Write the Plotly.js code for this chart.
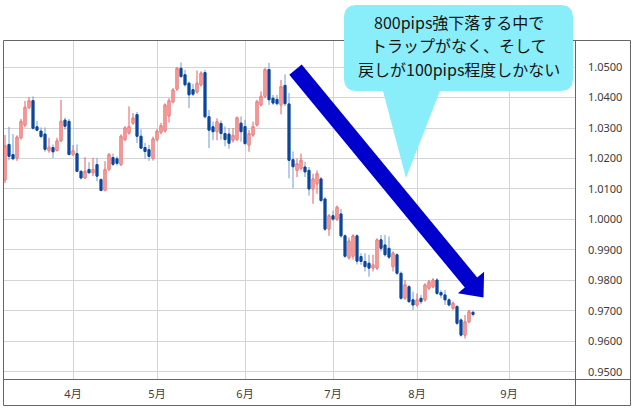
<!DOCTYPE html>
<html>
<head>
<meta charset="utf-8">
<script src="https://cdn.plot.ly/plotly-3.0.1.min.js"></script>
<style>
  html, body { margin: 0; padding: 0; background: #ffffff; }
  #chart { width: 635px; height: 411px; }
</style>
</head>
<body>
<div id="chart"></div>
<script>
// Daily EUR/CHF candles, 2022 (weekdays only)
const dates = [
  '2022-03-09','2022-03-10','2022-03-11','2022-03-14','2022-03-15','2022-03-16','2022-03-17','2022-03-18',
  '2022-03-21','2022-03-22','2022-03-23','2022-03-24','2022-03-25','2022-03-28','2022-03-29','2022-03-30','2022-03-31',
  '2022-04-01','2022-04-04','2022-04-05','2022-04-06','2022-04-07','2022-04-08','2022-04-11','2022-04-12','2022-04-13',
  '2022-04-14','2022-04-15','2022-04-18','2022-04-19','2022-04-20','2022-04-21','2022-04-22','2022-04-25','2022-04-26',
  '2022-04-27','2022-04-28','2022-04-29',
  '2022-05-02','2022-05-03','2022-05-04','2022-05-05','2022-05-06','2022-05-09','2022-05-10','2022-05-11','2022-05-12',
  '2022-05-13','2022-05-16','2022-05-17','2022-05-18','2022-05-19','2022-05-20','2022-05-23','2022-05-24','2022-05-25',
  '2022-05-26','2022-05-27','2022-05-30','2022-05-31',
  '2022-06-01','2022-06-02','2022-06-03','2022-06-06','2022-06-07','2022-06-08','2022-06-09','2022-06-10','2022-06-13',
  '2022-06-14','2022-06-15','2022-06-16','2022-06-17','2022-06-20','2022-06-21','2022-06-22','2022-06-23','2022-06-24',
  '2022-06-27','2022-06-28','2022-06-29','2022-06-30',
  '2022-07-01','2022-07-04','2022-07-05','2022-07-06','2022-07-07','2022-07-08','2022-07-11','2022-07-12','2022-07-13',
  '2022-07-14','2022-07-15','2022-07-18','2022-07-19','2022-07-20','2022-07-21','2022-07-22','2022-07-25','2022-07-26',
  '2022-07-27','2022-07-28','2022-07-29',
  '2022-08-01','2022-08-02','2022-08-03','2022-08-04','2022-08-05','2022-08-08','2022-08-09','2022-08-10','2022-08-11',
  '2022-08-12','2022-08-15','2022-08-16','2022-08-17','2022-08-18','2022-08-19'
];

const open = [
  1.0130,1.0246,1.0213,1.0202,1.0268,1.0310,1.0367,1.0390,1.0304,1.0290,1.0280,1.0226,1.0236,1.0226,1.0258,1.0326,1.0322,
  1.0213,1.0216,1.0158,1.0136,1.0164,1.0153,1.0180,1.0131,1.0095,1.0164,1.0203,1.0199,1.0180,1.0262,1.0284,1.0316,1.0344,
  1.0273,1.0236,1.0229,1.0200,
  1.0262,1.0286,1.0291,1.0340,1.0386,1.0428,1.0496,1.0475,1.0447,1.0426,1.0418,1.0442,1.0482,1.0337,1.0304,1.0288,1.0315,
  1.0282,1.0280,1.0260,1.0262,1.0316,
  1.0305,1.0244,1.0277,1.0310,1.0376,1.0404,1.0492,1.0398,1.0394,1.0376,1.0440,1.0379,1.0196,1.0161,1.0167,1.0172,1.0161,
  1.0100,1.0117,1.0133,1.0067,0.9968,
  1.0012,1.0001,1.0018,0.9946,0.9874,0.9879,0.9946,0.9878,0.9862,0.9856,0.9840,0.9840,0.9933,0.9916,0.9905,0.9845,0.9884,
  0.9823,0.9741,0.9779,0.9736,
  0.9719,0.9741,0.9736,0.9774,0.9779,0.9801,0.9760,0.9752,0.9736,0.9708,0.9714,0.9670,0.9620,0.9664,0.9695
];

const high = [
  1.0277,1.0304,1.0280,1.0276,1.0330,1.0389,1.0402,1.0404,1.0323,1.0302,1.0302,1.0268,1.0246,1.0268,1.0392,1.0334,1.0330,
  1.0244,1.0246,1.0160,1.0204,1.0188,1.0202,1.0202,1.0135,1.0191,1.0218,1.0216,1.0207,1.0279,1.0306,1.0371,1.0349,1.0353,
  1.0295,1.0251,1.0245,1.0272,
  1.0296,1.0317,1.0381,1.0398,1.0431,1.0500,1.0515,1.0491,1.0453,1.0445,1.0489,1.0486,1.0491,1.0359,1.0321,1.0332,1.0325,
  1.0305,1.0300,1.0300,1.0338,1.0338,
  1.0327,1.0294,1.0321,1.0393,1.0420,1.0498,1.0514,1.0409,1.0409,1.0458,1.0476,1.0415,1.0223,1.0200,1.0216,1.0189,1.0172,
  1.0150,1.0161,1.0139,1.0073,1.0018,
  1.0029,1.0045,1.0034,0.9951,0.9940,0.9951,0.9951,0.9889,0.9889,0.9884,0.9884,0.9938,0.9949,0.9949,0.9944,0.9895,0.9889,
  0.9829,0.9801,0.9785,0.9763,
  0.9757,0.9752,0.9790,0.9801,0.9807,0.9807,0.9768,0.9768,0.9741,0.9730,0.9719,0.9675,0.9686,0.9703,0.9700
];

const low = [
  1.0119,1.0194,1.0194,1.0192,1.0262,1.0302,1.0362,1.0295,1.0289,1.0266,1.0222,1.0219,1.0202,1.0223,1.0255,1.0295,1.0210,
  1.0208,1.0155,1.0131,1.0133,1.0151,1.0142,1.0125,1.0092,1.0092,1.0158,1.0175,1.0177,1.0175,1.0257,1.0278,1.0311,1.0251,
  1.0232,1.0199,1.0192,1.0193,
  1.0256,1.0279,1.0285,1.0318,1.0381,1.0422,1.0464,1.0436,1.0365,1.0405,1.0413,1.0436,1.0332,1.0234,1.0260,1.0260,1.0262,
  1.0240,1.0232,1.0252,1.0258,1.0255,
  1.0244,1.0222,1.0271,1.0305,1.0371,1.0398,1.0376,1.0376,1.0374,1.0345,1.0372,1.0135,1.0102,1.0139,1.0161,1.0139,1.0078,
  1.0051,1.0084,1.0056,0.9962,0.9946,
  0.9995,0.9995,0.9940,0.9874,0.9868,0.9868,0.9852,0.9851,0.9829,0.9812,0.9829,0.9834,0.9895,0.9878,0.9870,0.9829,0.9818,
  0.9736,0.9736,0.9725,0.9703,
  0.9714,0.9722,0.9730,0.9768,0.9774,0.9752,0.9741,0.9719,0.9714,0.9703,0.9653,0.9615,0.9609,0.9659,0.9681
];

const close = [
  1.0242,1.0207,1.0199,1.0270,1.0322,1.0368,1.0390,1.0299,1.0293,1.0272,1.0230,1.0237,1.0222,1.0258,1.0322,1.0306,1.0213,
  1.0225,1.0158,1.0136,1.0158,1.0153,1.0164,1.0142,1.0095,1.0164,1.0213,1.0181,1.0184,1.0273,1.0301,1.0305,1.0333,1.0273,
  1.0234,1.0223,1.0207,1.0264,
  1.0290,1.0308,1.0376,1.0390,1.0425,1.0496,1.0469,1.0442,1.0409,1.0411,1.0447,1.0480,1.0337,1.0293,1.0288,1.0321,1.0282,
  1.0262,1.0250,1.0276,1.0334,1.0288,
  1.0249,1.0282,1.0305,1.0387,1.0404,1.0492,1.0393,1.0382,1.0380,1.0436,1.0380,1.0194,1.0173,1.0183,1.0194,1.0156,1.0100,
  1.0133,1.0150,1.0062,0.9968,1.0012,
  1.0001,1.0040,0.9946,0.9879,0.9929,0.9946,0.9863,0.9862,0.9845,0.9840,0.9851,0.9933,0.9905,0.9884,0.9876,0.9889,0.9823,
  0.9741,0.9785,0.9730,0.9719,
  0.9736,0.9730,0.9785,0.9795,0.9801,0.9757,0.9752,0.9736,0.9719,0.9725,0.9659,0.9620,0.9664,0.9697,0.9688
];

// Month axis labels (placed on the first trading day of each month)
const monthTicks  = ['2022-04-01','2022-05-02','2022-06-01','2022-07-01','2022-08-01','2022-09-01'];
const monthLabels = ['4月','5月','6月','7月','8月','9月'];

// Callout text
const calloutLines = ['800pips強下落する中で', 'トラップがなく、そして', '戻しが100pips程度しかない'];

// ---- geometry helpers (pixel -> paper) ----
const W = 635, H = 411;
const M = { l: 3, r: 60, t: 40, b: 32 };
const PW = W - M.l - M.r, PH = H - M.t - M.b;
const px = x => (x - M.l) / PW;
const py = y => 1 - (y - M.t) / PH;
const pathFrom = pts => pts.map((p, i) => (i ? 'L' : 'M') + px(p[0]).toFixed(5) + ',' + py(p[1]).toFixed(5)).join(' ') + ' Z';

// body-only extents for the overlay trace
const bodyHigh = open.map((o, i) => Math.max(o, close[i]));
const bodyLow  = open.map((o, i) => Math.min(o, close[i]));

const UP_WICK = '#ea5b5d', DN_WICK = '#6e9bd3';
const UP_BODY = '#f5a7a7', UP_EDGE = '#ef8585', DN_BODY = '#0c479a';

const wicks = {
  type: 'candlestick', x: dates, open: open, high: high, low: low, close: close,
  increasing: { line: { color: UP_WICK, width: 1 }, fillcolor: UP_WICK },
  decreasing: { line: { color: DN_WICK, width: 1 }, fillcolor: DN_WICK },
  hoverinfo: 'skip', showlegend: false
};
const bodies = {
  type: 'candlestick', x: dates, open: open, high: bodyHigh, low: bodyLow, close: close,
  increasing: { line: { color: UP_EDGE, width: 1 }, fillcolor: UP_BODY },
  decreasing: { line: { color: DN_BODY, width: 1 }, fillcolor: DN_BODY },
  hoverinfo: 'skip', showlegend: false
};

// ---- frame, arrow and callout bubble ----
const FRAME = '#666666';
const frameLine = (x0, y0, x1, y1) => ({
  type: 'line', xref: 'paper', yref: 'paper', layer: 'above',
  x0: px(x0), y0: py(y0), x1: px(x1), y1: py(y1),
  line: { color: FRAME, width: 1 }
});

// big downward arrow
const arrowPts = [
  [301.7, 64.5], [477.2, 277.4], [484.1, 271.7], [483.5, 297.6],
  [457.9, 293.3], [464.8, 287.6], [289.3, 74.7]
];

// speech bubble: rounded box with a pointer
function bubblePath(x0, y0, x1, y1, r, tl, tr, tip) {
  const P = (x, y) => px(x).toFixed(5) + ',' + py(y).toFixed(5);
  return 'M' + P(x0 + r, y0) +
    ' L' + P(x1 - r, y0) + ' Q' + P(x1, y0) + ' ' + P(x1, y0 + r) +
    ' L' + P(x1, y1 - r) + ' Q' + P(x1, y1) + ' ' + P(x1 - r, y1) +
    ' L' + P(tr, y1) + ' L' + P(tip[0], tip[1]) + ' L' + P(tl, y1) +
    ' L' + P(x0 + r, y1) + ' Q' + P(x0, y1) + ' ' + P(x0, y1 - r) +
    ' L' + P(x0, y0 + r) + ' Q' + P(x0, y0) + ' ' + P(x0 + r, y0) + ' Z';
}

const shapes = [
  frameLine(3.5, 40.5, 630.5, 40.5),
  frameLine(3.5, 405.5, 630.5, 405.5),
  frameLine(3.5, 40.5, 3.5, 405.5),
  frameLine(630.5, 40.5, 630.5, 405.5),
  frameLine(575.5, 40.5, 575.5, 405.5),
  frameLine(3.5, 379.5, 630.5, 379.5),
  { type: 'path', xref: 'paper', yref: 'paper', layer: 'above', path: pathFrom(arrowPts),
    fillcolor: '#0000cd', line: { width: 0 } },
  { type: 'path', xref: 'paper', yref: 'paper', layer: 'above',
    path: bubblePath(344, 5, 573, 91, 13, 383, 440, [406, 178]),
    fillcolor: '#8aedfa', line: { width: 0 } }
];

// callout lines, one annotation per line
const lineY = [22, 45.5, 69];
const annotations = calloutLines.map((t, i) => ({
  xref: 'paper', yref: 'paper', x: px(459), y: py(lineY[i]),
  xanchor: 'center', yanchor: 'middle', showarrow: false, text: t,
  borderpad: 0,
  font: { family: "'Noto Sans CJK JP', sans-serif", size: 16, color: '#151515' }
}));

const tickFont = { family: "'Noto Sans', 'Noto Sans CJK JP', sans-serif", size: 11, color: '#3c3c3c' };

const layout = {
  width: W, height: H,
  margin: M,
  paper_bgcolor: '#ffffff', plot_bgcolor: '#ffffff',
  showlegend: false,
  boxgap: 0.5, boxgroupgap: 0,
  xaxis: {
    type: 'date',
    range: ['2022-03-08 12:00', '2022-09-23 12:00'],
    rangebreaks: [{ bounds: ['sat', 'mon'] }],
    rangeslider: { visible: false },
    tickmode: 'array', tickvals: monthTicks, ticktext: monthLabels,
    showgrid: true, gridcolor: '#d4d4d4', gridwidth: 1,
    zeroline: false, showline: false, ticks: '',
    ticklabelstandoff: 7,
    tickfont: tickFont, fixedrange: true
  },
  yaxis: {
    side: 'right',
    range: [0.9476, 1.0589],
    tick0: 0.95, dtick: 0.01, tickformat: '.4f',
    showgrid: true, gridcolor: '#d4d4d4', gridwidth: 1,
    zeroline: false, showline: false, ticks: '',
    ticklabelstandoff: 12,
    tickfont: tickFont, fixedrange: true
  },
  shapes: shapes,
  annotations: annotations
};

Plotly.newPlot('chart', [wicks, bodies], layout, { staticPlot: true, displayModeBar: false });
</script>
</body>
</html>
